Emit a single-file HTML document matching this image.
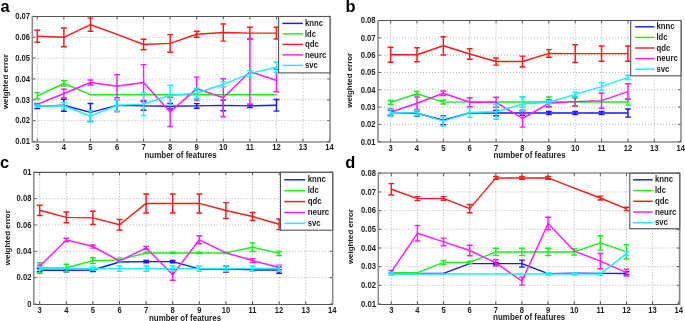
<!DOCTYPE html>
<html><head><meta charset="utf-8"><style>
html,body{margin:0;padding:0;background:#fff;}
body{width:685px;height:321px;overflow:hidden;}
svg{display:block;will-change:transform;filter:blur(0.35px);}
text{font-family:"Liberation Sans",sans-serif;fill:#222;stroke:#222;stroke-width:0px;}
.tk{font-size:8.2px;font-weight:bold;}
.lab{font-size:8.6px;font-weight:bold;}
.lg{font-size:8.6px;font-weight:bold;}
.let{font-size:17.3px;font-weight:bold;fill:#000;stroke:none;}
</style></head><body>
<svg width="685" height="321" viewBox="0 0 685 321">
<rect width="685" height="321" fill="#fff"/>
<rect x="32.4" y="16.4" width="297.8" height="125.1" fill="#fff"/>
<path d="M37.3 16.4V141.5M63.87 16.4V141.5M90.44 16.4V141.5M117.01 16.4V141.5M143.58 16.4V141.5M170.15 16.4V141.5M196.72 16.4V141.5M223.29 16.4V141.5M249.86 16.4V141.5M276.43 16.4V141.5M303 16.4V141.5M329.57 16.4V141.5M32.4 37.25H330.2M32.4 58.1H330.2M32.4 78.95H330.2M32.4 99.8H330.2M32.4 120.65H330.2" stroke="#a4a4a4" stroke-width="0.85" stroke-dasharray="1 2" fill="none"/>
<path d="M37.3 141.5v-2.8M37.3 16.4v2.8M63.87 141.5v-2.8M63.87 16.4v2.8M90.44 141.5v-2.8M90.44 16.4v2.8M117.01 141.5v-2.8M117.01 16.4v2.8M143.58 141.5v-2.8M143.58 16.4v2.8M170.15 141.5v-2.8M170.15 16.4v2.8M196.72 141.5v-2.8M196.72 16.4v2.8M223.29 141.5v-2.8M223.29 16.4v2.8M249.86 141.5v-2.8M249.86 16.4v2.8M276.43 141.5v-2.8M276.43 16.4v2.8M303 141.5v-2.8M303 16.4v2.8M329.57 141.5v-2.8M329.57 16.4v2.8M32.4 16.4h2.8M330.2 16.4h-2.8M32.4 37.25h2.8M330.2 37.25h-2.8M32.4 58.1h2.8M330.2 58.1h-2.8M32.4 78.95h2.8M330.2 78.95h-2.8M32.4 99.8h2.8M330.2 99.8h-2.8M32.4 120.65h2.8M330.2 120.65h-2.8M32.4 141.5h2.8M330.2 141.5h-2.8" stroke="#444" stroke-width="0.9" fill="none"/>
<path d="M37.3 104.2V108.6M34.4 104.2H40.2M34.4 108.6H40.2M63.87 99.3V111.3M60.97 99.3H66.77M60.97 111.3H66.77M90.44 103.4V121.4M87.54 103.4H93.34M87.54 121.4H93.34M117.01 99.4V111.4M114.11 99.4H119.91M114.11 111.4H119.91M143.58 101.6V110.2M140.68 101.6H146.48M140.68 110.2H146.48M170.15 103.5V108.9M167.25 103.5H173.05M167.25 108.9H173.05M196.72 103.6V108.2M193.82 103.6H199.62M193.82 108.2H199.62M223.29 100.1V110.7M220.39 100.1H226.19M220.39 110.7H226.19M249.86 104.4V107.4M246.96 104.4H252.76M246.96 107.4H252.76M276.43 99.5V111.1M273.53 99.5H279.33M273.53 111.1H279.33" stroke="#1818ff" stroke-width="1.45" fill="none"/>
<polyline points="37.3,106.4 63.87,105.3 90.44,112.4 117.01,105.4 143.58,105.9 170.15,106.2 196.72,105.9 223.29,105.4 249.86,105.9 276.43,105.3" stroke="#1818ff" stroke-width="1.45" fill="none" stroke-linejoin="round"/>
<path d="M37.3 92.6V99M34.4 92.6H40.2M34.4 99H40.2M63.87 80.7V86.3M60.97 80.7H66.77M60.97 86.3H66.77" stroke="#18f018" stroke-width="1.45" fill="none"/>
<polyline points="37.3,95.8 63.87,83.5 90.44,94.7 117.01,94.7 143.58,94.7 170.15,94.7 196.72,94.7 223.29,94.7 249.86,94.7 276.43,94.7" stroke="#18f018" stroke-width="1.45" fill="none" stroke-linejoin="round"/>
<path d="M37.3 30.2V42.2M34.4 30.2H40.2M34.4 42.2H40.2M63.87 27.9V46.7M60.97 27.9H66.77M60.97 46.7H66.77M90.44 18.1V31.3M87.54 18.1H93.34M87.54 31.3H93.34M143.58 39.3V49.7M140.68 39.3H146.48M140.68 49.7H146.48M170.15 34.6V52.2M167.25 34.6H173.05M167.25 52.2H173.05M196.72 31.2V37.2M193.82 31.2H199.62M193.82 37.2H199.62M223.29 23.9V41.1M220.39 23.9H226.19M220.39 41.1H226.19M249.86 27.3V38.9M246.96 27.3H252.76M246.96 38.9H252.76M276.43 27.3V38.9M273.53 27.3H279.33M273.53 38.9H279.33" stroke="#ff1818" stroke-width="1.45" fill="none"/>
<polyline points="37.3,36.2 63.87,37.3 90.44,24.7 117.01,34.4 143.58,44.5 170.15,43.4 196.72,34.2 223.29,32.5 249.86,33.1 276.43,33.1" stroke="#ff1818" stroke-width="1.45" fill="none" stroke-linejoin="round"/>
<path d="M37.3 103.4V105.4M34.4 103.4H40.2M34.4 105.4H40.2M63.87 89.2V97.8M60.97 89.2H66.77M60.97 97.8H66.77M90.44 80V85M87.54 80H93.34M87.54 85H93.34M117.01 74.8V97.6M114.11 74.8H119.91M114.11 97.6H119.91M143.58 64.6V100.4M140.68 64.6H146.48M140.68 100.4H146.48M170.15 97.3V126.5M167.25 97.3H173.05M167.25 126.5H173.05M196.72 77.1V100.1M193.82 77.1H199.62M193.82 100.1H199.62M223.29 78.8V116.8M220.39 78.8H226.19M220.39 116.8H226.19M249.86 39.2V104.2M246.96 39.2H252.76M246.96 104.2H252.76M276.43 69.2V91.8M273.53 69.2H279.33M273.53 91.8H279.33" stroke="#ff18ff" stroke-width="1.45" fill="none"/>
<polyline points="37.3,104.4 63.87,93.5 90.44,82.5 117.01,86.2 143.58,82.5 170.15,111.9 196.72,88.6 223.29,97.8 249.86,71.7 276.43,80.5" stroke="#ff18ff" stroke-width="1.45" fill="none" stroke-linejoin="round"/>
<path d="M37.3 105V107M34.4 105H40.2M34.4 107H40.2M63.87 102.5V109.1M60.97 102.5H66.77M60.97 109.1H66.77M90.44 110.7V121.7M87.54 110.7H93.34M87.54 121.7H93.34M117.01 99.5V111.3M114.11 99.5H119.91M114.11 111.3H119.91M143.58 92.6V115.6M140.68 92.6H146.48M140.68 115.6H146.48M170.15 85.3V105.3M167.25 85.3H173.05M167.25 105.3H173.05M196.72 88.2V98.2M193.82 88.2H199.62M193.82 98.2H199.62M223.29 81.6V87M220.39 81.6H226.19M220.39 87H226.19M249.86 70.6V76.6M246.96 70.6H252.76M246.96 76.6H252.76M276.43 62V72.6M273.53 62H279.33M273.53 72.6H279.33" stroke="#10f4ff" stroke-width="1.45" fill="none"/>
<polyline points="37.3,106 63.87,105.8 90.44,116.2 117.01,105.4 143.58,104.1 170.15,95.3 196.72,93.2 223.29,84.3 249.86,73.6 276.43,67.3" stroke="#10f4ff" stroke-width="1.45" fill="none" stroke-linejoin="round"/>
<path d="M32.3 16.5H330M32.3 142H330" stroke="#555" stroke-width="1.15" fill="none"/>
<path d="M32.3 15.93V142.57M330 15.93V142.57" stroke="#888" stroke-width="1.5" fill="none"/>
<text x="37.3" y="149.8" text-anchor="middle" class="tk" textLength="4.24" lengthAdjust="spacingAndGlyphs">3</text>
<text x="63.87" y="149.8" text-anchor="middle" class="tk" textLength="4.24" lengthAdjust="spacingAndGlyphs">4</text>
<text x="90.44" y="149.8" text-anchor="middle" class="tk" textLength="4.24" lengthAdjust="spacingAndGlyphs">5</text>
<text x="117.01" y="149.8" text-anchor="middle" class="tk" textLength="4.24" lengthAdjust="spacingAndGlyphs">6</text>
<text x="143.58" y="149.8" text-anchor="middle" class="tk" textLength="4.24" lengthAdjust="spacingAndGlyphs">7</text>
<text x="170.15" y="149.8" text-anchor="middle" class="tk" textLength="4.24" lengthAdjust="spacingAndGlyphs">8</text>
<text x="196.72" y="149.8" text-anchor="middle" class="tk" textLength="4.24" lengthAdjust="spacingAndGlyphs">9</text>
<text x="223.29" y="149.8" text-anchor="middle" class="tk" textLength="8.48" lengthAdjust="spacingAndGlyphs">10</text>
<text x="249.86" y="149.8" text-anchor="middle" class="tk" textLength="7.92" lengthAdjust="spacingAndGlyphs">11</text>
<text x="276.43" y="149.8" text-anchor="middle" class="tk" textLength="8.48" lengthAdjust="spacingAndGlyphs">12</text>
<text x="303" y="149.8" text-anchor="middle" class="tk" textLength="8.48" lengthAdjust="spacingAndGlyphs">13</text>
<text x="329.57" y="149.8" text-anchor="middle" class="tk" textLength="8.48" lengthAdjust="spacingAndGlyphs">14</text>
<text x="30" y="19.2" text-anchor="end" class="tk" textLength="14.84" lengthAdjust="spacingAndGlyphs">0.07</text>
<text x="30" y="40.05" text-anchor="end" class="tk" textLength="14.84" lengthAdjust="spacingAndGlyphs">0.06</text>
<text x="30" y="60.9" text-anchor="end" class="tk" textLength="14.84" lengthAdjust="spacingAndGlyphs">0.05</text>
<text x="30" y="81.75" text-anchor="end" class="tk" textLength="14.84" lengthAdjust="spacingAndGlyphs">0.04</text>
<text x="30" y="102.6" text-anchor="end" class="tk" textLength="14.84" lengthAdjust="spacingAndGlyphs">0.03</text>
<text x="30" y="123.45" text-anchor="end" class="tk" textLength="14.84" lengthAdjust="spacingAndGlyphs">0.02</text>
<text x="30" y="144.3" text-anchor="end" class="tk" textLength="14.84" lengthAdjust="spacingAndGlyphs">0.01</text>
<rect x="278.6" y="16.5" width="51.4" height="56.4" fill="#fff" stroke="#555" stroke-width="1.1"/>
<path d="M282.4 23.4H302.8" stroke="#1818ff" stroke-width="1.45"/>
<text x="304.9" y="26" text-anchor="start" class="lg" textLength="18.17" lengthAdjust="spacingAndGlyphs">knnc</text>
<path d="M282.4 33.9H302.8" stroke="#18f018" stroke-width="1.45"/>
<text x="304.9" y="36.5" text-anchor="start" class="lg" textLength="10.99" lengthAdjust="spacingAndGlyphs">ldc</text>
<path d="M282.4 44.4H302.8" stroke="#ff1818" stroke-width="1.45"/>
<text x="304.9" y="47" text-anchor="start" class="lg" textLength="13.87" lengthAdjust="spacingAndGlyphs">qdc</text>
<path d="M282.4 54.9H302.8" stroke="#ff18ff" stroke-width="1.45"/>
<text x="304.9" y="57.5" text-anchor="start" class="lg" textLength="21.51" lengthAdjust="spacingAndGlyphs">neurc</text>
<path d="M282.4 65.4H302.8" stroke="#10f4ff" stroke-width="1.45"/>
<text x="304.9" y="68" text-anchor="start" class="lg" textLength="12.9" lengthAdjust="spacingAndGlyphs">svc</text>
<text x="0.6" y="12.4" class="let" textLength="9.14" lengthAdjust="spacingAndGlyphs">a</text>
<text x="0" y="0" text-anchor="middle" class="lab" textLength="54.97" lengthAdjust="spacingAndGlyphs" transform="translate(5.4 81.6) rotate(-90) scale(1 0.9)" dominant-baseline="central">weighted error</text>
<text x="180.6" y="158" text-anchor="middle" class="lab" textLength="72.18" lengthAdjust="spacingAndGlyphs">number of features</text>
<rect x="378" y="20.5" width="303" height="121.2" fill="#fff"/>
<path d="M390.6 20.5V141.7M416.97 20.5V141.7M443.34 20.5V141.7M469.71 20.5V141.7M496.08 20.5V141.7M522.45 20.5V141.7M548.82 20.5V141.7M575.19 20.5V141.7M601.56 20.5V141.7M627.93 20.5V141.7M654.3 20.5V141.7M378 37.81H681M378 55.13H681M378 72.44H681M378 89.76H681M378 107.07H681M378 124.39H681" stroke="#a4a4a4" stroke-width="0.85" stroke-dasharray="1 2" fill="none"/>
<path d="M390.6 141.7v-2.8M390.6 20.5v2.8M416.97 141.7v-2.8M416.97 20.5v2.8M443.34 141.7v-2.8M443.34 20.5v2.8M469.71 141.7v-2.8M469.71 20.5v2.8M496.08 141.7v-2.8M496.08 20.5v2.8M522.45 141.7v-2.8M522.45 20.5v2.8M548.82 141.7v-2.8M548.82 20.5v2.8M575.19 141.7v-2.8M575.19 20.5v2.8M601.56 141.7v-2.8M601.56 20.5v2.8M627.93 141.7v-2.8M627.93 20.5v2.8M654.3 141.7v-2.8M654.3 20.5v2.8M680.67 141.7v-2.8M680.67 20.5v2.8M378 20.5h2.8M681 20.5h-2.8M378 37.81h2.8M681 37.81h-2.8M378 55.13h2.8M681 55.13h-2.8M378 72.44h2.8M681 72.44h-2.8M378 89.76h2.8M681 89.76h-2.8M378 107.07h2.8M681 107.07h-2.8M378 124.39h2.8M681 124.39h-2.8M378 141.7h2.8M681 141.7h-2.8" stroke="#444" stroke-width="0.9" fill="none"/>
<path d="M390.6 110V115.2M387.7 110H393.5M387.7 115.2H393.5M416.97 110.7V115.9M414.07 110.7H419.87M414.07 115.9H419.87M443.34 115.6V124.8M440.44 115.6H446.24M440.44 124.8H446.24M496.08 110.2V115.8M493.18 110.2H498.98M493.18 115.8H498.98M522.45 110.8V115.2M519.55 110.8H525.35M519.55 115.2H525.35M548.82 111.5V114.5M545.92 111.5H551.72M545.92 114.5H551.72M575.19 111.4V114.6M572.29 111.4H578.09M572.29 114.6H578.09M601.56 111.4V114.6M598.66 111.4H604.46M598.66 114.6H604.46M627.93 108.9V117.1M625.03 108.9H630.83M625.03 117.1H630.83" stroke="#1818ff" stroke-width="1.45" fill="none"/>
<polyline points="390.6,112.6 416.97,113.3 443.34,120.2 469.71,112.8 496.08,113 522.45,113 548.82,113 575.19,113 601.56,113 627.93,113" stroke="#1818ff" stroke-width="1.45" fill="none" stroke-linejoin="round"/>
<path d="M390.6 100.5V104.3M387.7 100.5H393.5M387.7 104.3H393.5M416.97 91.5V96.1M414.07 91.5H419.87M414.07 96.1H419.87M443.34 100.2V104M440.44 100.2H446.24M440.44 104H446.24M522.45 96.7V107.1M519.55 96.7H525.35M519.55 107.1H525.35M548.82 96.9V106.9M545.92 96.9H551.72M545.92 106.9H551.72M575.19 98.1V105.7M572.29 98.1H578.09M572.29 105.7H578.09M627.93 98.7V105.1M625.03 98.7H630.83M625.03 105.1H630.83" stroke="#18f018" stroke-width="1.45" fill="none"/>
<polyline points="390.6,102.4 416.97,93.8 443.34,102.1 469.71,101.9 496.08,101.9 522.45,101.9 548.82,101.9 575.19,101.9 601.56,101.9 627.93,101.9" stroke="#18f018" stroke-width="1.45" fill="none" stroke-linejoin="round"/>
<path d="M390.6 47.3V62.3M387.7 47.3H393.5M387.7 62.3H393.5M416.97 47.8V61.8M414.07 47.8H419.87M414.07 61.8H419.87M443.34 36.7V54.9M440.44 36.7H446.24M440.44 54.9H446.24M469.71 48.7V59.3M466.81 48.7H472.61M466.81 59.3H472.61M496.08 57.9V65.1M493.18 57.9H498.98M493.18 65.1H498.98M522.45 56.1V66.9M519.55 56.1H525.35M519.55 66.9H525.35M548.82 49.6V57.2M545.92 49.6H551.72M545.92 57.2H551.72M575.19 44.8V62.4M572.29 44.8H578.09M572.29 62.4H578.09M601.56 46V61.2M598.66 46H604.46M598.66 61.2H604.46M627.93 46V61.2M625.03 46H630.83M625.03 61.2H630.83" stroke="#ff1818" stroke-width="1.45" fill="none"/>
<polyline points="390.6,54.8 416.97,54.8 443.34,45.8 469.71,54 496.08,61.5 522.45,61.5 548.82,53.4 575.19,53.6 601.56,53.6 627.93,53.6" stroke="#ff1818" stroke-width="1.45" fill="none" stroke-linejoin="round"/>
<path d="M390.6 108.6V116M387.7 108.6H393.5M387.7 116H393.5M416.97 97.1V109.5M414.07 97.1H419.87M414.07 109.5H419.87M443.34 91V95.4M440.44 91H446.24M440.44 95.4H446.24M469.71 97.8V106.8M466.81 97.8H472.61M466.81 106.8H472.61M496.08 97.3V107.3M493.18 97.3H498.98M493.18 107.3H498.98M522.45 109.9V127.1M519.55 109.9H525.35M519.55 127.1H525.35M548.82 99.8V106.8M545.92 99.8H551.72M545.92 106.8H551.72M575.19 97V106.2M572.29 97H578.09M572.29 106.2H578.09M601.56 93V108.2M598.66 93H604.46M598.66 108.2H604.46M627.93 83.8V99.4M625.03 83.8H630.83M625.03 99.4H630.83" stroke="#ff18ff" stroke-width="1.45" fill="none"/>
<polyline points="390.6,112.3 416.97,103.3 443.34,93.2 469.71,102.3 496.08,102.3 522.45,118.5 548.82,103.3 575.19,101.6 601.56,100.6 627.93,91.6" stroke="#ff18ff" stroke-width="1.45" fill="none" stroke-linejoin="round"/>
<path d="M390.6 109.3V115.9M387.7 109.3H393.5M387.7 115.9H393.5M416.97 110.3V115.5M414.07 110.3H419.87M414.07 115.5H419.87M443.34 116.2V126M440.44 116.2H446.24M440.44 126H446.24M469.71 107.8V117.2M466.81 107.8H472.61M466.81 117.2H472.61M496.08 104.2V119.2M493.18 104.2H498.98M493.18 119.2H498.98M522.45 97V111M519.55 97H525.35M519.55 111H525.35M548.82 100.7V103.7M545.92 100.7H551.72M545.92 103.7H551.72M575.19 92.2V96.6M572.29 92.2H578.09M572.29 96.6H578.09M601.56 82.8V90.4M598.66 82.8H604.46M598.66 90.4H604.46M627.93 75.2V79.6M625.03 75.2H630.83M625.03 79.6H630.83" stroke="#10f4ff" stroke-width="1.45" fill="none"/>
<polyline points="390.6,112.6 416.97,112.9 443.34,121.1 469.71,112.5 496.08,111.7 522.45,104 548.82,102.2 575.19,94.4 601.56,86.6 627.93,77.4" stroke="#10f4ff" stroke-width="1.45" fill="none" stroke-linejoin="round"/>
<path d="M378 20.5H681M378 142H681" stroke="#555" stroke-width="1.15" fill="none"/>
<path d="M378 19.93V142.57M681 19.93V142.57" stroke="#888" stroke-width="1.5" fill="none"/>
<text x="390.6" y="150.5" text-anchor="middle" class="tk" textLength="4.24" lengthAdjust="spacingAndGlyphs">3</text>
<text x="416.97" y="150.5" text-anchor="middle" class="tk" textLength="4.24" lengthAdjust="spacingAndGlyphs">4</text>
<text x="443.34" y="150.5" text-anchor="middle" class="tk" textLength="4.24" lengthAdjust="spacingAndGlyphs">5</text>
<text x="469.71" y="150.5" text-anchor="middle" class="tk" textLength="4.24" lengthAdjust="spacingAndGlyphs">6</text>
<text x="496.08" y="150.5" text-anchor="middle" class="tk" textLength="4.24" lengthAdjust="spacingAndGlyphs">7</text>
<text x="522.45" y="150.5" text-anchor="middle" class="tk" textLength="4.24" lengthAdjust="spacingAndGlyphs">8</text>
<text x="548.82" y="150.5" text-anchor="middle" class="tk" textLength="4.24" lengthAdjust="spacingAndGlyphs">9</text>
<text x="575.19" y="150.5" text-anchor="middle" class="tk" textLength="8.48" lengthAdjust="spacingAndGlyphs">10</text>
<text x="601.56" y="150.5" text-anchor="middle" class="tk" textLength="7.92" lengthAdjust="spacingAndGlyphs">11</text>
<text x="627.93" y="150.5" text-anchor="middle" class="tk" textLength="8.48" lengthAdjust="spacingAndGlyphs">12</text>
<text x="654.3" y="150.5" text-anchor="middle" class="tk" textLength="8.48" lengthAdjust="spacingAndGlyphs">13</text>
<text x="680.67" y="150.5" text-anchor="middle" class="tk" textLength="8.48" lengthAdjust="spacingAndGlyphs">14</text>
<text x="375.6" y="23.3" text-anchor="end" class="tk" textLength="14.84" lengthAdjust="spacingAndGlyphs">0.08</text>
<text x="375.6" y="40.61" text-anchor="end" class="tk" textLength="14.84" lengthAdjust="spacingAndGlyphs">0.07</text>
<text x="375.6" y="57.93" text-anchor="end" class="tk" textLength="14.84" lengthAdjust="spacingAndGlyphs">0.06</text>
<text x="375.6" y="75.24" text-anchor="end" class="tk" textLength="14.84" lengthAdjust="spacingAndGlyphs">0.05</text>
<text x="375.6" y="92.56" text-anchor="end" class="tk" textLength="14.84" lengthAdjust="spacingAndGlyphs">0.04</text>
<text x="375.6" y="109.87" text-anchor="end" class="tk" textLength="14.84" lengthAdjust="spacingAndGlyphs">0.03</text>
<text x="375.6" y="127.19" text-anchor="end" class="tk" textLength="14.84" lengthAdjust="spacingAndGlyphs">0.02</text>
<text x="375.6" y="144.5" text-anchor="end" class="tk" textLength="14.84" lengthAdjust="spacingAndGlyphs">0.01</text>
<rect x="630.7" y="20.5" width="50.3" height="55.3" fill="#fff" stroke="#555" stroke-width="1.1"/>
<path d="M635.1 26.8H654.4" stroke="#1818ff" stroke-width="1.45"/>
<text x="656.4" y="29.4" text-anchor="start" class="lg" textLength="18.17" lengthAdjust="spacingAndGlyphs">knnc</text>
<path d="M635.1 37.4H654.4" stroke="#18f018" stroke-width="1.45"/>
<text x="656.4" y="40" text-anchor="start" class="lg" textLength="10.99" lengthAdjust="spacingAndGlyphs">ldc</text>
<path d="M635.1 48H654.4" stroke="#ff1818" stroke-width="1.45"/>
<text x="656.4" y="50.6" text-anchor="start" class="lg" textLength="13.87" lengthAdjust="spacingAndGlyphs">qdc</text>
<path d="M635.1 58.6H654.4" stroke="#ff18ff" stroke-width="1.45"/>
<text x="656.4" y="61.2" text-anchor="start" class="lg" textLength="21.51" lengthAdjust="spacingAndGlyphs">neurc</text>
<path d="M635.1 69.2H654.4" stroke="#10f4ff" stroke-width="1.45"/>
<text x="656.4" y="71.8" text-anchor="start" class="lg" textLength="12.9" lengthAdjust="spacingAndGlyphs">svc</text>
<text x="345.4" y="12.4" class="let" textLength="10.04" lengthAdjust="spacingAndGlyphs">b</text>
<text x="0" y="0" text-anchor="middle" class="lab" textLength="54.97" lengthAdjust="spacingAndGlyphs" transform="translate(350 80.3) rotate(-90) scale(1 0.9)" dominant-baseline="central">weighted error</text>
<text x="529.5" y="158.4" text-anchor="middle" class="lab" textLength="72.18" lengthAdjust="spacingAndGlyphs">number of features</text>
<rect x="33.8" y="172.3" width="298.9" height="131.7" fill="#fff"/>
<path d="M39.7 172.3V304M66.3 172.3V304M92.9 172.3V304M119.5 172.3V304M146.1 172.3V304M172.7 172.3V304M199.3 172.3V304M225.9 172.3V304M252.5 172.3V304M279.1 172.3V304M305.7 172.3V304M33.8 198.64H332.7M33.8 224.98H332.7M33.8 251.32H332.7M33.8 277.66H332.7" stroke="#a4a4a4" stroke-width="0.85" stroke-dasharray="1 2" fill="none"/>
<path d="M39.7 304v-2.8M39.7 172.3v2.8M66.3 304v-2.8M66.3 172.3v2.8M92.9 304v-2.8M92.9 172.3v2.8M119.5 304v-2.8M119.5 172.3v2.8M146.1 304v-2.8M146.1 172.3v2.8M172.7 304v-2.8M172.7 172.3v2.8M199.3 304v-2.8M199.3 172.3v2.8M225.9 304v-2.8M225.9 172.3v2.8M252.5 304v-2.8M252.5 172.3v2.8M279.1 304v-2.8M279.1 172.3v2.8M305.7 304v-2.8M305.7 172.3v2.8M332.3 304v-2.8M332.3 172.3v2.8M33.8 172.3h2.8M332.7 172.3h-2.8M33.8 198.64h2.8M332.7 198.64h-2.8M33.8 224.98h2.8M332.7 224.98h-2.8M33.8 251.32h2.8M332.7 251.32h-2.8M33.8 277.66h2.8M332.7 277.66h-2.8M33.8 304h2.8M332.7 304h-2.8" stroke="#444" stroke-width="0.9" fill="none"/>
<path d="M39.7 268.8V271.8M36.8 268.8H42.6M36.8 271.8H42.6M66.3 268.8V271.8M63.4 268.8H69.2M63.4 271.8H69.2M92.9 268.5V271.5M90 268.5H95.8M90 271.5H95.8M146.1 260.4V262.8M143.2 260.4H149M143.2 262.8H149M172.7 260.4V262.8M169.8 260.4H175.6M169.8 262.8H175.6M225.9 265.9V271.9M223 265.9H228.8M223 271.9H228.8M279.1 266.7V273.3M276.2 266.7H282M276.2 273.3H282" stroke="#1818ff" stroke-width="1.45" fill="none"/>
<polyline points="39.7,270.3 66.3,270.3 92.9,270 119.5,262 146.1,261.6 172.7,261.6 199.3,268.9 225.9,268.9 252.5,269.9 279.1,270" stroke="#1818ff" stroke-width="1.45" fill="none" stroke-linejoin="round"/>
<path d="M39.7 262.8V273.2M36.8 262.8H42.6M36.8 273.2H42.6M66.3 264.2V271.4M63.4 264.2H69.2M63.4 271.4H69.2M92.9 257.8V263.4M90 257.8H95.8M90 263.4H95.8M119.5 258.1V261.7M116.6 258.1H122.4M116.6 261.7H122.4M146.1 252.3V253.5M143.2 252.3H149M143.2 253.5H149M172.7 252.3V253.5M169.8 252.3H175.6M169.8 253.5H175.6M199.3 252.3V253.5M196.4 252.3H202.2M196.4 253.5H202.2M225.9 252.3V253.5M223 252.3H228.8M223 253.5H228.8M252.5 242.9V251.5M249.6 242.9H255.4M249.6 251.5H255.4M279.1 251.4V255.4M276.2 251.4H282M276.2 255.4H282" stroke="#18f018" stroke-width="1.45" fill="none"/>
<polyline points="39.7,268 66.3,267.8 92.9,260.6 119.5,259.9 146.1,252.9 172.7,252.9 199.3,252.9 225.9,252.9 252.5,247.2 279.1,253.4" stroke="#18f018" stroke-width="1.45" fill="none" stroke-linejoin="round"/>
<path d="M39.7 205.2V215.4M36.8 205.2H42.6M36.8 215.4H42.6M66.3 212V222.8M63.4 212H69.2M63.4 222.8H69.2M92.9 211.3V224.5M90 211.3H95.8M90 224.5H95.8M119.5 219.5V229.9M116.6 219.5H122.4M116.6 229.9H122.4M146.1 193.9V212.9M143.2 193.9H149M143.2 212.9H149M172.7 193.9V212.9M169.8 193.9H175.6M169.8 212.9H175.6M199.3 193.9V212.9M196.4 193.9H202.2M196.4 212.9H202.2M225.9 202.6V218.4M223 202.6H228.8M223 218.4H228.8M252.5 212.5V220.5M249.6 212.5H255.4M249.6 220.5H255.4M279.1 219V229.6M276.2 219H282M276.2 229.6H282" stroke="#ff1818" stroke-width="1.45" fill="none"/>
<polyline points="39.7,210.3 66.3,217.4 92.9,217.9 119.5,224.7 146.1,203.4 172.7,203.4 199.3,203.4 225.9,210.5 252.5,216.5 279.1,224.3" stroke="#ff1818" stroke-width="1.45" fill="none" stroke-linejoin="round"/>
<path d="M39.7 265.1V267.5M36.8 265.1H42.6M36.8 267.5H42.6M66.3 238.3V241.5M63.4 238.3H69.2M63.4 241.5H69.2M92.9 244.9V248.1M90 244.9H95.8M90 248.1H95.8M146.1 246.4V249.4M143.2 246.4H149M143.2 249.4H149M172.7 269.2V280.2M169.8 269.2H175.6M169.8 280.2H175.6M199.3 235.8V243.8M196.4 235.8H202.2M196.4 243.8H202.2M252.5 258.6V262.4M249.6 258.6H255.4M249.6 262.4H255.4M279.1 265.3V269.7M276.2 265.3H282M276.2 269.7H282" stroke="#ff18ff" stroke-width="1.45" fill="none"/>
<polyline points="39.7,266.3 66.3,239.9 92.9,246.5 119.5,261 146.1,247.9 172.7,274.7 199.3,239.8 225.9,252.9 252.5,260.5 279.1,267.5" stroke="#ff18ff" stroke-width="1.45" fill="none" stroke-linejoin="round"/>
<path d="M39.7 267V270M36.8 267H42.6M36.8 270H42.6M92.9 267V270M90 267H95.8M90 270H95.8M119.5 265.9V271.3M116.6 265.9H122.4M116.6 271.3H122.4M146.1 265.9V271.3M143.2 265.9H149M143.2 271.3H149M172.7 265.9V271.3M169.8 265.9H175.6M169.8 271.3H175.6M199.3 265.9V271.3M196.4 265.9H202.2M196.4 271.3H202.2M225.9 265.9V271.3M223 265.9H228.8M223 271.3H228.8M252.5 265.9V271.3M249.6 265.9H255.4M249.6 271.3H255.4M279.1 265.8V271.2M276.2 265.8H282M276.2 271.2H282" stroke="#10f4ff" stroke-width="1.45" fill="none"/>
<polyline points="39.7,268.5 66.3,268.5 92.9,268.5 119.5,268.6 146.1,268.6 172.7,268.6 199.3,268.6 225.9,268.6 252.5,268.6 279.1,268.5" stroke="#10f4ff" stroke-width="1.45" fill="none" stroke-linejoin="round"/>
<path d="M33.8 172.4H332.7M33.8 304.5H332.7" stroke="#555" stroke-width="1.15" fill="none"/>
<path d="M33.8 171.83V305.07M332.7 171.83V305.07" stroke="#888" stroke-width="1.5" fill="none"/>
<text x="39.7" y="312.8" text-anchor="middle" class="tk" textLength="4.24" lengthAdjust="spacingAndGlyphs">3</text>
<text x="66.3" y="312.8" text-anchor="middle" class="tk" textLength="4.24" lengthAdjust="spacingAndGlyphs">4</text>
<text x="92.9" y="312.8" text-anchor="middle" class="tk" textLength="4.24" lengthAdjust="spacingAndGlyphs">5</text>
<text x="119.5" y="312.8" text-anchor="middle" class="tk" textLength="4.24" lengthAdjust="spacingAndGlyphs">6</text>
<text x="146.1" y="312.8" text-anchor="middle" class="tk" textLength="4.24" lengthAdjust="spacingAndGlyphs">7</text>
<text x="172.7" y="312.8" text-anchor="middle" class="tk" textLength="4.24" lengthAdjust="spacingAndGlyphs">8</text>
<text x="199.3" y="312.8" text-anchor="middle" class="tk" textLength="4.24" lengthAdjust="spacingAndGlyphs">9</text>
<text x="225.9" y="312.8" text-anchor="middle" class="tk" textLength="8.48" lengthAdjust="spacingAndGlyphs">10</text>
<text x="252.5" y="312.8" text-anchor="middle" class="tk" textLength="7.92" lengthAdjust="spacingAndGlyphs">11</text>
<text x="279.1" y="312.8" text-anchor="middle" class="tk" textLength="8.48" lengthAdjust="spacingAndGlyphs">12</text>
<text x="305.7" y="312.8" text-anchor="middle" class="tk" textLength="8.48" lengthAdjust="spacingAndGlyphs">13</text>
<text x="332.3" y="312.8" text-anchor="middle" class="tk" textLength="8.48" lengthAdjust="spacingAndGlyphs">14</text>
<text x="31.4" y="175.1" text-anchor="end" class="tk" textLength="8.48" lengthAdjust="spacingAndGlyphs">01</text>
<text x="31.4" y="201.44" text-anchor="end" class="tk" textLength="14.84" lengthAdjust="spacingAndGlyphs">0.08</text>
<text x="31.4" y="227.78" text-anchor="end" class="tk" textLength="14.84" lengthAdjust="spacingAndGlyphs">0.06</text>
<text x="31.4" y="254.12" text-anchor="end" class="tk" textLength="14.84" lengthAdjust="spacingAndGlyphs">0.04</text>
<text x="31.4" y="280.46" text-anchor="end" class="tk" textLength="14.84" lengthAdjust="spacingAndGlyphs">0.02</text>
<text x="31.4" y="306.8" text-anchor="end" class="tk" textLength="4.24" lengthAdjust="spacingAndGlyphs">0</text>
<rect x="280.5" y="172.3" width="52.2" height="57.9" fill="#fff" stroke="#555" stroke-width="1.1"/>
<path d="M284.2 179.8H305.1" stroke="#1818ff" stroke-width="1.45"/>
<text x="307.7" y="182.4" text-anchor="start" class="lg" textLength="18.17" lengthAdjust="spacingAndGlyphs">knnc</text>
<path d="M284.2 190.7H305.1" stroke="#18f018" stroke-width="1.45"/>
<text x="307.7" y="193.3" text-anchor="start" class="lg" textLength="10.99" lengthAdjust="spacingAndGlyphs">ldc</text>
<path d="M284.2 201.6H305.1" stroke="#ff1818" stroke-width="1.45"/>
<text x="307.7" y="204.2" text-anchor="start" class="lg" textLength="13.87" lengthAdjust="spacingAndGlyphs">qdc</text>
<path d="M284.2 212.5H305.1" stroke="#ff18ff" stroke-width="1.45"/>
<text x="307.7" y="215.1" text-anchor="start" class="lg" textLength="21.51" lengthAdjust="spacingAndGlyphs">neurc</text>
<path d="M284.2 223.4H305.1" stroke="#10f4ff" stroke-width="1.45"/>
<text x="307.7" y="226" text-anchor="start" class="lg" textLength="12.9" lengthAdjust="spacingAndGlyphs">svc</text>
<text x="0.1" y="168" class="let" textLength="9.14" lengthAdjust="spacingAndGlyphs">c</text>
<text x="0" y="0" text-anchor="middle" class="lab" textLength="54.97" lengthAdjust="spacingAndGlyphs" transform="translate(8 237.7) rotate(-90) scale(1 0.9)" dominant-baseline="central">weighted error</text>
<text x="185" y="320.9" text-anchor="middle" class="lab" textLength="72.18" lengthAdjust="spacingAndGlyphs">number of features</text>
<rect x="378.3" y="173.3" width="301.4" height="130.7" fill="#fff"/>
<path d="M391.3 173.3V304M417.43 173.3V304M443.56 173.3V304M469.69 173.3V304M495.82 173.3V304M521.95 173.3V304M548.08 173.3V304M574.21 173.3V304M600.34 173.3V304M626.47 173.3V304M652.6 173.3V304M678.73 173.3V304M378.3 191.97H679.7M378.3 210.64H679.7M378.3 229.31H679.7M378.3 247.99H679.7M378.3 266.66H679.7M378.3 285.33H679.7" stroke="#a4a4a4" stroke-width="0.85" stroke-dasharray="1 2" fill="none"/>
<path d="M391.3 304v-2.8M391.3 173.3v2.8M417.43 304v-2.8M417.43 173.3v2.8M443.56 304v-2.8M443.56 173.3v2.8M469.69 304v-2.8M469.69 173.3v2.8M495.82 304v-2.8M495.82 173.3v2.8M521.95 304v-2.8M521.95 173.3v2.8M548.08 304v-2.8M548.08 173.3v2.8M574.21 304v-2.8M574.21 173.3v2.8M600.34 304v-2.8M600.34 173.3v2.8M626.47 304v-2.8M626.47 173.3v2.8M652.6 304v-2.8M652.6 173.3v2.8M678.73 304v-2.8M678.73 173.3v2.8M378.3 173.3h2.8M679.7 173.3h-2.8M378.3 191.97h2.8M679.7 191.97h-2.8M378.3 210.64h2.8M679.7 210.64h-2.8M378.3 229.31h2.8M679.7 229.31h-2.8M378.3 247.99h2.8M679.7 247.99h-2.8M378.3 266.66h2.8M679.7 266.66h-2.8M378.3 285.33h2.8M679.7 285.33h-2.8M378.3 304h2.8M679.7 304h-2.8" stroke="#444" stroke-width="0.9" fill="none"/>
<path d="M495.82 262.4V264.8M492.92 262.4H498.72M492.92 264.8H498.72M521.95 260.1V267.1M519.05 260.1H524.85M519.05 267.1H524.85M626.47 271.8V275M623.57 271.8H629.37M623.57 275H629.37" stroke="#1818ff" stroke-width="1.45" fill="none"/>
<polyline points="391.3,273.4 417.43,273.4 443.56,273.4 469.69,263.6 495.82,263.6 521.95,263.6 548.08,273.6 574.21,273.2 600.34,273.4 626.47,273.4" stroke="#1818ff" stroke-width="1.45" fill="none" stroke-linejoin="round"/>
<path d="M443.56 260.4V264.4M440.66 260.4H446.46M440.66 264.4H446.46M469.69 261.2V263.6M466.79 261.2H472.59M466.79 263.6H472.59M495.82 248.2V255.6M492.92 248.2H498.72M492.92 255.6H498.72M521.95 248.2V255.6M519.05 248.2H524.85M519.05 255.6H524.85M548.08 248.2V255.6M545.18 248.2H550.98M545.18 255.6H550.98M574.21 248.8V255M571.31 248.8H577.11M571.31 255H577.11M600.34 235.7V250.1M597.44 235.7H603.24M597.44 250.1H603.24M626.47 244.8V259M623.57 244.8H629.37M623.57 259H629.37" stroke="#18f018" stroke-width="1.45" fill="none"/>
<polyline points="391.3,272.7 417.43,272.7 443.56,262.4 469.69,262.4 495.82,251.9 521.95,251.9 548.08,251.9 574.21,251.9 600.34,242.9 626.47,251.9" stroke="#18f018" stroke-width="1.45" fill="none" stroke-linejoin="round"/>
<path d="M391.3 183.6V195M388.4 183.6H394.2M388.4 195H394.2M417.43 196.6V200.6M414.53 196.6H420.33M414.53 200.6H420.33M443.56 196.6V200.2M440.66 196.6H446.46M440.66 200.2H446.46M469.69 204.4V212.8M466.79 204.4H472.59M466.79 212.8H472.59M495.82 176.5V179.3M492.92 176.5H498.72M492.92 179.3H498.72M521.95 176.5V179.3M519.05 176.5H524.85M519.05 179.3H524.85M548.08 176.5V179.3M545.18 176.5H550.98M545.18 179.3H550.98M600.34 196.1V199.9M597.44 196.1H603.24M597.44 199.9H603.24M626.47 207.2V210.6M623.57 207.2H629.37M623.57 210.6H629.37" stroke="#ff1818" stroke-width="1.45" fill="none"/>
<polyline points="391.3,189.3 417.43,198.6 443.56,198.4 469.69,208.6 495.82,177.9 521.95,177.9 548.08,177.9 574.21,188.1 600.34,198 626.47,208.9" stroke="#ff1818" stroke-width="1.45" fill="none" stroke-linejoin="round"/>
<path d="M391.3 270.4V273.4M388.4 270.4H394.2M388.4 273.4H394.2M417.43 225.6V241M414.53 225.6H420.33M414.53 241H420.33M443.56 238.1V245.7M440.66 238.1H446.46M440.66 245.7H446.46M469.69 245.2V255.8M466.79 245.2H472.59M466.79 255.8H472.59M495.82 259.8V266M492.92 259.8H498.72M492.92 266H498.72M521.95 277.1V285.1M519.05 277.1H524.85M519.05 285.1H524.85M548.08 217.2V229.8M545.18 217.2H550.98M545.18 229.8H550.98M600.34 253.4V268.8M597.44 253.4H603.24M597.44 268.8H603.24M626.47 269.3V275.9M623.57 269.3H629.37M623.57 275.9H629.37" stroke="#ff18ff" stroke-width="1.45" fill="none"/>
<polyline points="391.3,271.9 417.43,233.3 443.56,241.9 469.69,250.5 495.82,262.9 521.95,281.1 548.08,223.5 574.21,251.1 600.34,261.1 626.47,272.6" stroke="#ff18ff" stroke-width="1.45" fill="none" stroke-linejoin="round"/>
<path d="M391.3 272.6V275.2M388.4 272.6H394.2M388.4 275.2H394.2M548.08 272.7V275.1M545.18 272.7H550.98M545.18 275.1H550.98M574.21 272.9V274.9M571.31 272.9H577.11M571.31 274.9H577.11M600.34 272.7V275.1M597.44 272.7H603.24M597.44 275.1H603.24M626.47 251.6V255.6M623.57 251.6H629.37M623.57 255.6H629.37" stroke="#10f4ff" stroke-width="1.45" fill="none"/>
<polyline points="391.3,273.9 417.43,273.9 443.56,273.9 469.69,273.9 495.82,273.9 521.95,273.9 548.08,273.9 574.21,273.9 600.34,273.9 626.47,253.6" stroke="#10f4ff" stroke-width="1.45" fill="none" stroke-linejoin="round"/>
<path d="M378.3 173H679.7M378.3 304.5H679.7" stroke="#555" stroke-width="1.15" fill="none"/>
<path d="M378.3 172.43V305.07M679.7 172.43V305.07" stroke="#888" stroke-width="1.5" fill="none"/>
<text x="391.3" y="312.8" text-anchor="middle" class="tk" textLength="4.24" lengthAdjust="spacingAndGlyphs">3</text>
<text x="417.43" y="312.8" text-anchor="middle" class="tk" textLength="4.24" lengthAdjust="spacingAndGlyphs">4</text>
<text x="443.56" y="312.8" text-anchor="middle" class="tk" textLength="4.24" lengthAdjust="spacingAndGlyphs">5</text>
<text x="469.69" y="312.8" text-anchor="middle" class="tk" textLength="4.24" lengthAdjust="spacingAndGlyphs">6</text>
<text x="495.82" y="312.8" text-anchor="middle" class="tk" textLength="4.24" lengthAdjust="spacingAndGlyphs">7</text>
<text x="521.95" y="312.8" text-anchor="middle" class="tk" textLength="4.24" lengthAdjust="spacingAndGlyphs">8</text>
<text x="548.08" y="312.8" text-anchor="middle" class="tk" textLength="4.24" lengthAdjust="spacingAndGlyphs">9</text>
<text x="574.21" y="312.8" text-anchor="middle" class="tk" textLength="8.48" lengthAdjust="spacingAndGlyphs">10</text>
<text x="600.34" y="312.8" text-anchor="middle" class="tk" textLength="7.92" lengthAdjust="spacingAndGlyphs">11</text>
<text x="626.47" y="312.8" text-anchor="middle" class="tk" textLength="8.48" lengthAdjust="spacingAndGlyphs">12</text>
<text x="652.6" y="312.8" text-anchor="middle" class="tk" textLength="8.48" lengthAdjust="spacingAndGlyphs">13</text>
<text x="678.73" y="312.8" text-anchor="middle" class="tk" textLength="8.48" lengthAdjust="spacingAndGlyphs">14</text>
<text x="375.9" y="176.1" text-anchor="end" class="tk" textLength="14.84" lengthAdjust="spacingAndGlyphs">0.08</text>
<text x="375.9" y="194.77" text-anchor="end" class="tk" textLength="14.84" lengthAdjust="spacingAndGlyphs">0.07</text>
<text x="375.9" y="213.44" text-anchor="end" class="tk" textLength="14.84" lengthAdjust="spacingAndGlyphs">0.06</text>
<text x="375.9" y="232.11" text-anchor="end" class="tk" textLength="14.84" lengthAdjust="spacingAndGlyphs">0.05</text>
<text x="375.9" y="250.79" text-anchor="end" class="tk" textLength="14.84" lengthAdjust="spacingAndGlyphs">0.04</text>
<text x="375.9" y="269.46" text-anchor="end" class="tk" textLength="14.84" lengthAdjust="spacingAndGlyphs">0.03</text>
<text x="375.9" y="288.13" text-anchor="end" class="tk" textLength="14.84" lengthAdjust="spacingAndGlyphs">0.02</text>
<text x="375.9" y="306.8" text-anchor="end" class="tk" textLength="14.84" lengthAdjust="spacingAndGlyphs">0.01</text>
<rect x="629.8" y="173.3" width="49.9" height="55.4" fill="#fff" stroke="#555" stroke-width="1.1"/>
<path d="M633.1 179.8H652.7" stroke="#1818ff" stroke-width="1.45"/>
<text x="654.9" y="182.4" text-anchor="start" class="lg" textLength="18.17" lengthAdjust="spacingAndGlyphs">knnc</text>
<path d="M633.1 190.55H652.7" stroke="#18f018" stroke-width="1.45"/>
<text x="654.9" y="193.15" text-anchor="start" class="lg" textLength="10.99" lengthAdjust="spacingAndGlyphs">ldc</text>
<path d="M633.1 201.3H652.7" stroke="#ff1818" stroke-width="1.45"/>
<text x="654.9" y="203.9" text-anchor="start" class="lg" textLength="13.87" lengthAdjust="spacingAndGlyphs">qdc</text>
<path d="M633.1 212.05H652.7" stroke="#ff18ff" stroke-width="1.45"/>
<text x="654.9" y="214.65" text-anchor="start" class="lg" textLength="21.51" lengthAdjust="spacingAndGlyphs">neurc</text>
<path d="M633.1 222.8H652.7" stroke="#10f4ff" stroke-width="1.45"/>
<text x="654.9" y="225.4" text-anchor="start" class="lg" textLength="12.9" lengthAdjust="spacingAndGlyphs">svc</text>
<text x="345.2" y="167.7" class="let" textLength="10.04" lengthAdjust="spacingAndGlyphs">d</text>
<text x="0" y="0" text-anchor="middle" class="lab" textLength="54.97" lengthAdjust="spacingAndGlyphs" transform="translate(351 236.6) rotate(-90) scale(1 0.9)" dominant-baseline="central">weighted error</text>
<text x="529.2" y="319.9" text-anchor="middle" class="lab" textLength="72.18" lengthAdjust="spacingAndGlyphs">number of features</text>
</svg>
</body></html>
